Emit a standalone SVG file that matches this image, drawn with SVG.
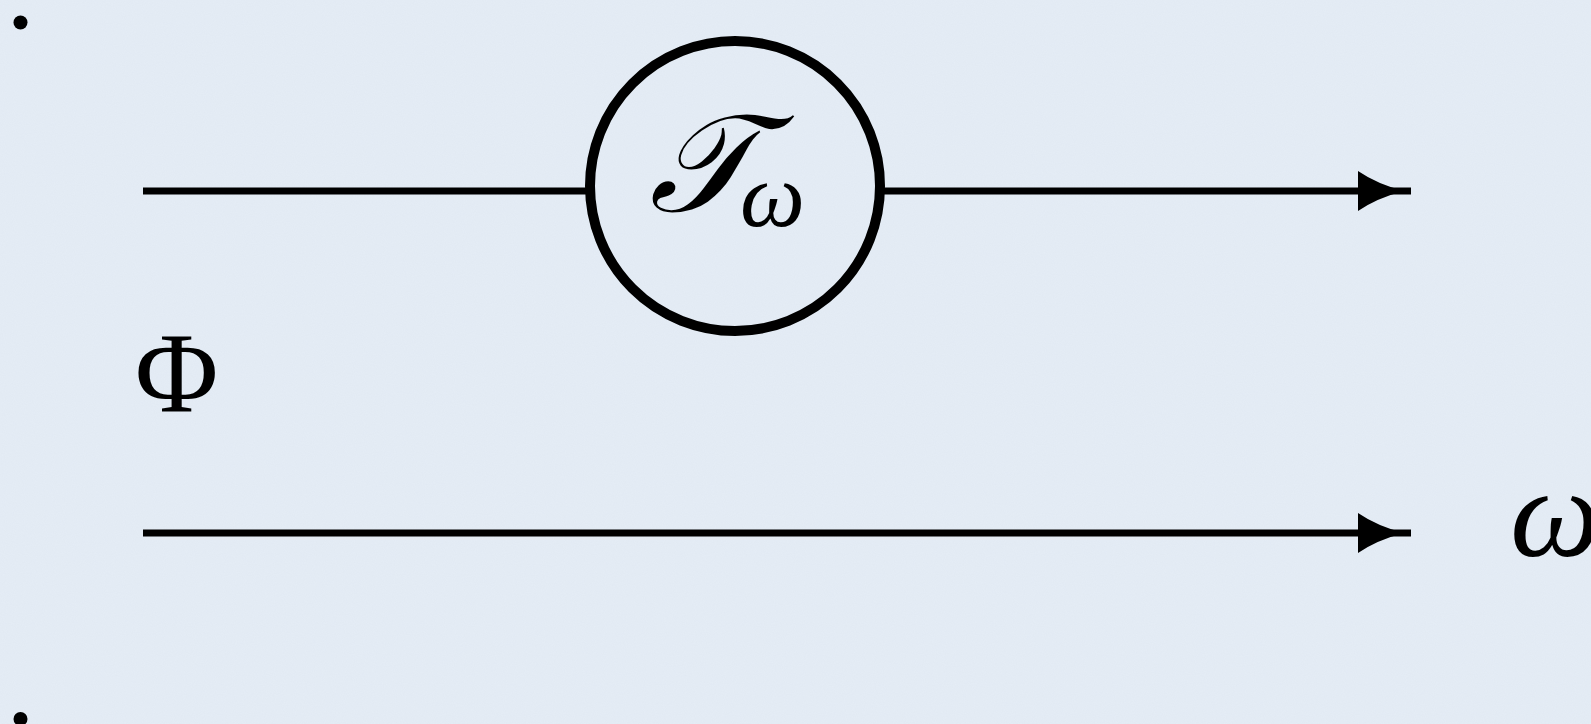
<svg xmlns="http://www.w3.org/2000/svg" width="1591" height="724" viewBox="0 0 1591 724">
  <style>
    .wire { stroke: #000; stroke-width: 7; fill: none; }
    .node { stroke: #000; stroke-width: 10; fill: none; }
    .math { font-family: "Liberation Serif", "DejaVu Serif", serif; fill: #000; }
    .head { fill: #000; }
  </style>
  <defs>
    <filter id="paper" x="0" y="0" width="100%" height="100%">
      <feTurbulence type="fractalNoise" baseFrequency="0.9" numOctaves="2" seed="3" result="n"/>
      <feColorMatrix in="n" type="matrix" values="0 0 0 0 0.55  0 0 0 0 0.6  0 0 0 0 0.68  0 0 0 0.12 0"/>
    </filter>
  </defs>
  <rect width="1591" height="724" fill="#e5edf6"/>
  <rect width="1591" height="724" filter="url(#paper)"/>

  <g id="bullets">
    <circle cx="20.5" cy="22.5" r="7" fill="#000"/>
    <circle cx="20.5" cy="719" r="7" fill="#000"/>
  </g>

  <g id="connectors">
    <line class="wire" x1="143" y1="191" x2="587" y2="191"/>
    <line class="wire" x1="883" y1="191" x2="1411" y2="191"/>
    <path class="head" d="M1358,171 Q1377,184 1404,191 Q1377,198 1358,211 Z"/>
    <line class="wire" x1="143" y1="533" x2="1411" y2="533"/>
    <path class="head" d="M1358,513 Q1377,526 1404,533 Q1377,540 1358,553 Z"/>
  </g>

  <g id="node-T">
    <circle class="node" cx="735" cy="186" r="145"/>
    <text class="math" x="649" y="211" font-size="138" font-style="italic">𝒯</text>
    <text class="math" x="740" y="226" font-size="92" font-style="italic">ω</text>
  </g>

  <g id="label-phi">
    <text class="math" x="135" y="411" font-size="114">Φ</text>
  </g>

  <g id="label-omega">
    <text class="math" x="1510" y="556" font-size="128" font-style="italic">ω</text>
  </g>
</svg>
